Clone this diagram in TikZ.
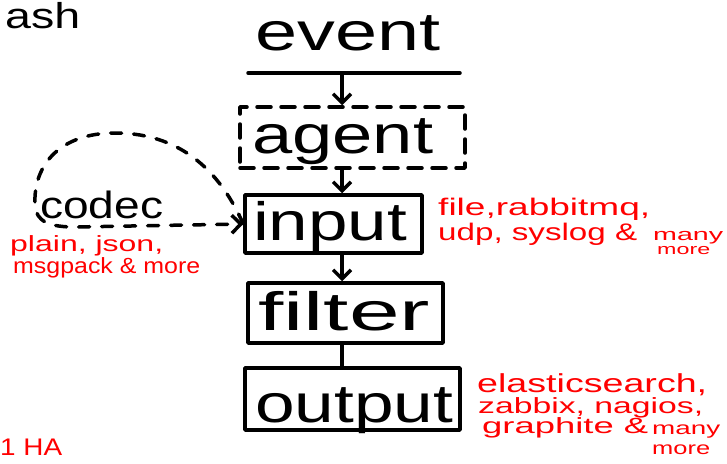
\documentclass[tikz,border=0pt]{standalone}
\usepackage{fontspec}
\setmainfont{Liberation Sans}
\usetikzlibrary{arrows.meta}
% text set at a given size and stretched to a given width
\newcommand\hw[3]{{\fontsize{#1}{#1}\selectfont\resizebox{#2}{\height}{#3}}}
\definecolor{pen}{RGB}{0,0,0}
\definecolor{redpen}{RGB}{255,0,0}
\begin{document}
\begin{tikzpicture}[x=1pt,y=-1pt,
  stroke/.style={draw=pen, line width=3.5pt, line cap=round, line join=round},
  stagebox/.style={stroke, rectangle, inner sep=0pt},
  dashbox/.style={stagebox, dash pattern=on 14pt off 10pt},
  word/.style={inner sep=0pt, anchor=base west, text=pen},
  note/.style={inner sep=0pt, anchor=base west, text=redpen},
  flow/.style={stroke, -{Straight Barb[length=9pt,width=18pt]}},
  loop/.style={stroke, dash pattern=on 11pt off 12pt, -{Straight Barb[length=9pt,width=18pt]}}
]
\useasboundingbox (0,0) rectangle (727,463);

% stage boxes
\node[dashbox, minimum width=225pt, minimum height=61pt] (agent) at (352.5,137.5) {};
\node[stagebox, minimum width=177pt, minimum height=58pt] (input) at (333.5,224) {};
\node[stagebox, minimum width=195pt, minimum height=60pt] (filter) at (345.5,313) {};
\node[stagebox, minimum width=215pt, minimum height=62pt] (output) at (352.5,399) {};

% stage names
\node[word] (tevent) at (255,50) {\hw{54}{185pt}{event}};
\node[word] (tagent) at (252,153) {\hw{54}{181pt}{agent}};
\node[word] (tinput) at (253,240) {\hw{54}{154pt}{input}};
\node[word] (tfilter) at (258,330) {\hw{54}{172pt}{filter}};
\node[word] (toutput) at (255,422) {\hw{54}{198pt}{output}};
\node[word] (tcodec) at (40,218) {\hw{38}{123pt}{codec}};
\node[word] (tash) at (5,28) {\hw{36}{75pt}{ash}};

% event underline and the flow spine
\coordinate (ulA) at (248,73);
\coordinate (ulB) at (460,73);
\coordinate (spine) at (342,73);
\draw[stroke] (ulA) -- (ulB);
\draw[flow] (spine) -- (spine |- agent.north);
\draw[flow] (agent.south -| spine) -- (input.north -| spine);
\draw[flow] (input.south -| spine) -- (filter.north -| spine);
\draw[stroke] (filter.south -| spine) -- (output.north -| spine);

% codec loop into the input
\draw[loop] (input.west) .. controls (215,160) and (170,133) .. (115,133)
  .. controls (60,133) and (33,165) .. (35,205)
  .. controls (36,222) and (50,227) .. (75,227) -- (input.west);

% red notes
\node[note] (nin1) at (438,215) {\hw{24}{212pt}{file,rabbitmq,}};
\node[note] (nin2) at (438,240) {\hw{24}{199pt}{udp, syslog \&}};
\node[note] (nin3) at (653,240) {\hw{17}{70pt}{many}};
\node[note] (nin4) at (657,254) {\hw{15}{53pt}{more}};

\node[note] (nc1) at (10,251) {\hw{22}{153pt}{plain, json,}};
\node[note] (nc2) at (13,273) {\hw{22}{187pt}{msgpack \& more}};

\node[note] (nout1) at (477,392) {\hw{26}{230pt}{elasticsearch,}};
\node[note] (nout2) at (478,413) {\hw{22}{225pt}{zabbix, nagios,}};
\node[note] (nout3) at (482,433) {\hw{22}{166pt}{graphite \&}};
\node[note] (nout4) at (652,434) {\hw{18}{68pt}{many}};
\node[note] (nout5) at (652,454) {\hw{18}{58pt}{more}};

\node[note] (nha) at (0,455) {\hw{24}{62pt}{1 HA}};
\end{tikzpicture}
\end{document}
